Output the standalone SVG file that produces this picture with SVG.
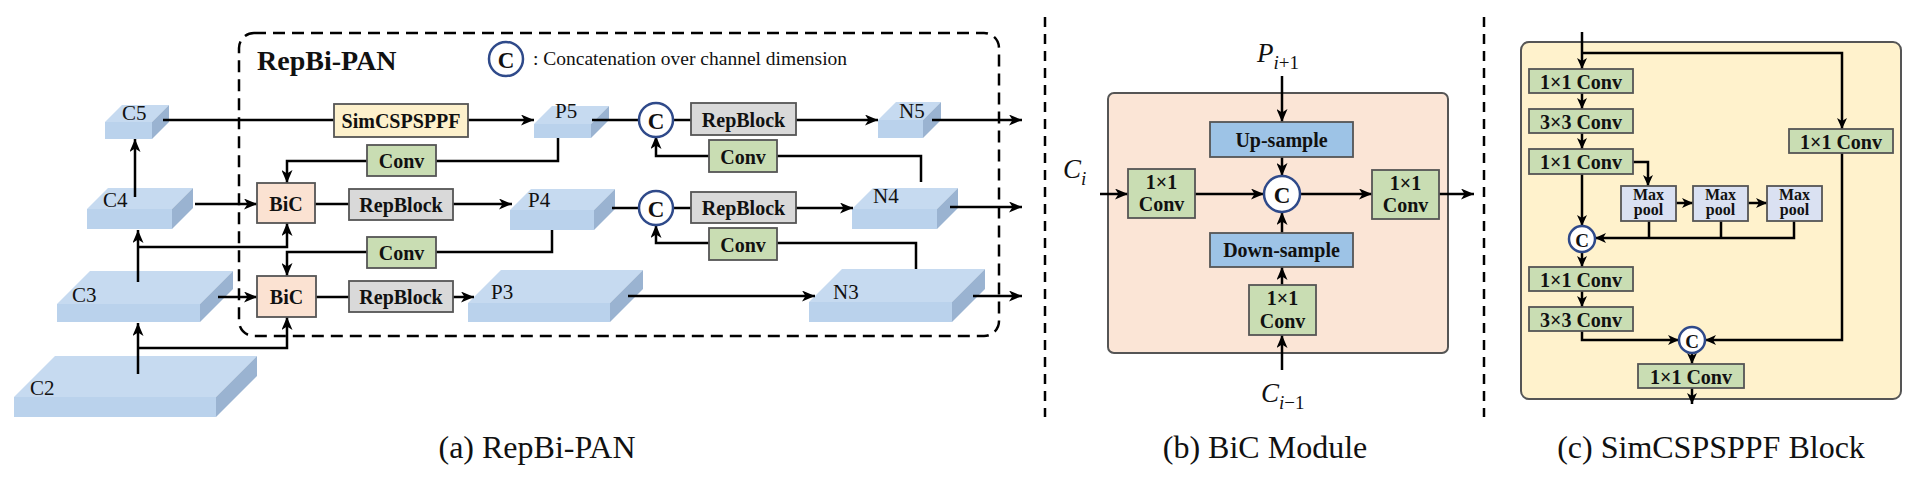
<svg xmlns="http://www.w3.org/2000/svg" width="1920" height="480" viewBox="0 0 1920 480">
<defs>
<marker id="ah" markerUnits="userSpaceOnUse" markerWidth="13" markerHeight="11" refX="13" refY="5.5" orient="auto" viewBox="0 0 13 11"><path d="M0,0 L13,5.5 L0,11 L3.5,5.5 z" fill="#000"/></marker>
<marker id="as" markerUnits="userSpaceOnUse" markerWidth="11" markerHeight="10" refX="11" refY="5" orient="auto" viewBox="0 0 11 10"><path d="M0,0 L11,5 L0,10 L3,5 z" fill="#000"/></marker>
<style>
.ln{stroke:#000;stroke-width:2.5;fill:none}
.a{marker-end:url(#ah)}
.s{marker-end:url(#as)}
.dash{stroke:#000;stroke-width:2.5;fill:none;stroke-dasharray:12 7}
.bx{stroke:#555;stroke-width:1.8}
.conv{fill:#c9ddb3}
.rep{fill:#d9d9d9}
.bic{fill:#fbe2d2}
.sim{fill:#fdf1cc}
.smp{fill:#9dc3e6}
.mp{fill:#dae1f2}
.cc{fill:#fff;stroke:#2f4a8a;stroke-width:2.5}
.top{fill:#c6daf0}
.fr{fill:#bad2ec}
.sd{fill:#9ab3d1}
.bt{font-family:"Liberation Serif",serif;font-weight:bold;font-size:20px;text-anchor:middle;dominant-baseline:central;fill:#111}
.ct{font-family:"Liberation Serif",serif;font-weight:bold;font-size:23px;text-anchor:middle;dominant-baseline:central;fill:#111}
.cs{font-family:"Liberation Serif",serif;font-weight:bold;font-size:19px;text-anchor:middle;dominant-baseline:central;fill:#111}
.mt{font-family:"Liberation Serif",serif;font-weight:bold;font-size:16px;text-anchor:middle;fill:#111}
.lb{font-family:"Liberation Serif",serif;font-size:21px;fill:#111}
.cap{font-family:"Liberation Serif",serif;font-size:32px;text-anchor:middle;fill:#111}
.m{font-family:"Liberation Serif",serif;font-style:italic;font-size:27px;fill:#111}
</style>
</defs>
<rect width="1920" height="480" fill="#fff"/>

<!-- panel frames -->
<g id="frames">
<rect x="239" y="33" width="760" height="303" rx="15" class="dash"/>
<line x1="1045" y1="17" x2="1045" y2="417" class="dash" style="stroke-dasharray:10 7"/>
<line x1="1484" y1="17" x2="1484" y2="417" class="dash" style="stroke-dasharray:10 7"/>
<rect x="1108" y="93" width="340" height="260" rx="6" fill="#fbe5d6" stroke="#555" stroke-width="2"/>
<rect x="1521" y="42" width="380" height="357" rx="8" fill="#fff2cc" stroke="#555" stroke-width="2"/>
</g>

<!-- slabs -->
<g id="C5"><polygon class="top" points="105,122 122,105 169,105 152,122"/><rect class="fr" x="105" y="122" width="47" height="17"/><polygon class="sd" points="152,122 169,105 169,122 152,139"/><text class="lb" x="122" y="120">C5</text></g>
<g id="C4"><polygon class="top" points="87,209 108,188 193,188 172,209"/><rect class="fr" x="87" y="209" width="85" height="20"/><polygon class="sd" points="172,209 193,188 193,208 172,229"/><text class="lb" x="103" y="207">C4</text></g>
<g id="C3"><polygon class="top" points="57,304 90,271 233,271 200,304"/><rect class="fr" x="57" y="304" width="143" height="18"/><polygon class="sd" points="200,304 233,271 233,289 200,322"/><text class="lb" x="72" y="302">C3</text></g>
<g id="C2"><polygon class="top" points="14,397 55,356 257,356 216,397"/><rect class="fr" x="14" y="397" width="202" height="20"/><polygon class="sd" points="216,397 257,356 257,376 216,417"/><text class="lb" x="30" y="395">C2</text></g>
<g id="P5"><polygon class="top" points="534,124 552,106 609,106 591,124"/><rect class="fr" x="534" y="124" width="57" height="14"/><polygon class="sd" points="591,124 609,106 609,120 591,138"/><text class="lb" x="555" y="118">P5</text></g>
<g id="P4"><polygon class="top" points="510,210 531,189 615,189 594,210"/><rect class="fr" x="510" y="210" width="84" height="20"/><polygon class="sd" points="594,210 615,189 615,209 594,230"/><text class="lb" x="528" y="207">P4</text></g>
<g id="P3"><polygon class="top" points="468,303 501,270 643,270 610,303"/><rect class="fr" x="468" y="303" width="142" height="19"/><polygon class="sd" points="610,303 643,270 643,289 610,322"/><text class="lb" x="491" y="299">P3</text></g>
<g id="N5"><polygon class="top" points="878,120 896,102 941,102 923,120"/><rect class="fr" x="878" y="120" width="45" height="18"/><polygon class="sd" points="923,120 941,102 941,120 923,138"/><text class="lb" x="899" y="118">N5</text></g>
<g id="N4"><polygon class="top" points="852,209 873,188 958,188 937,209"/><rect class="fr" x="852" y="209" width="85" height="20"/><polygon class="sd" points="937,209 958,188 958,208 937,229"/><text class="lb" x="873" y="203">N4</text></g>
<g id="N3"><polygon class="top" points="809,302 842,269 985,269 952,302"/><rect class="fr" x="809" y="302" width="143" height="20"/><polygon class="sd" points="952,302 985,269 985,289 952,322"/><text class="lb" x="833" y="299">N3</text></g>

<!-- connectors -->
<g id="connectors">
<path class="ln" d="M163,120 H334"/>
<path class="ln a" d="M468,120 H534"/>
<path class="ln" d="M558,138 V161 H436"/>
<path class="ln a" d="M367,161 H287 V183"/>
<path class="ln" d="M592,120 H639"/>
<path class="ln" d="M673,120 H691"/>
<path class="ln a" d="M796,120 H878"/>
<path class="ln a" d="M932,120 H1022"/>
<path class="ln" d="M921,182 V156 H777"/>
<path class="ln a" d="M709,156 H656 V136"/>
<path class="ln a" d="M195,204 H257"/>
<path class="ln a" d="M135,197 V139"/>
<path class="ln" d="M315,204 H349"/>
<path class="ln a" d="M453,204 H512"/>
<path class="ln" d="M612,208 H639"/>
<path class="ln" d="M673,208 H691"/>
<path class="ln a" d="M796,208 H853"/>
<path class="ln a" d="M950,207 H1022"/>
<path class="ln" d="M552,230 V252 H436"/>
<path class="ln a" d="M367,252 H287 V276"/>
<path class="ln" d="M916,269 V243 H777"/>
<path class="ln a" d="M709,243 H656 V225"/>
<path class="ln a" d="M218,297 H257"/>
<path class="ln a" d="M138,282 V230"/>
<path class="ln a" d="M138,247 H287 V223"/>
<path class="ln a" d="M138,374 V323"/>
<path class="ln a" d="M138,348 H287 V317"/>
<path class="ln" d="M316,297 H349"/>
<path class="ln a" d="M453,297 H474"/>
<path class="ln a" d="M628,296 H815"/>
<path class="ln a" d="M973,296 H1022"/>
<!-- BiC module -->
<path class="ln a" d="M1282,76 V122"/>
<path class="ln a" d="M1282,157 V176"/>
<path class="ln a" d="M1100,194 H1128"/>
<path class="ln a" d="M1195,194 H1264"/>
<path class="ln a" d="M1300,194 H1372"/>
<path class="ln a" d="M1439,194 H1474"/>
<path class="ln a" d="M1282,233 V212"/>
<path class="ln a" d="M1282,285 V267"/>
<path class="ln a" d="M1282,370 V335"/>
<!-- SimCSPSPPF block -->
<path class="ln s" d="M1582,32 V69"/>
<path class="ln s" d="M1582,93 V109"/>
<path class="ln s" d="M1582,133 V149"/>
<path class="ln s" d="M1582,174 V226"/>
<path class="ln s" d="M1582,252 V267"/>
<path class="ln s" d="M1582,291 V307"/>
<path class="ln s" d="M1582,331 V340 H1679"/>
<path class="ln s" d="M1582,53 H1842 V129"/>
<path class="ln s" d="M1842,153 V340 H1705"/>
<path class="ln s" d="M1633,162 H1648 V186"/>
<path class="ln s" d="M1676,203 H1693"/>
<path class="ln s" d="M1748,203 H1767"/>
<path class="ln" d="M1649,221 V238 M1721,221 V238"/>
<path class="ln s" d="M1794,221 V238 H1595"/>
<path class="ln s" d="M1692,353 V364"/>
<path class="ln s" d="M1692,388 V404"/>
</g>

<!-- panel (a) nodes -->
<g id="title"><text x="257" y="70" font-family="Liberation Serif, serif" font-weight="bold" font-size="28" fill="#111">RepBi-PAN</text></g>
<g id="legend"><circle class="cc" cx="506" cy="59" r="17"/><text class="ct" x="506" y="60">C</text><text x="533" y="65" font-family="Liberation Serif, serif" font-size="19.5" fill="#111">: Concatenation over channel dimension</text></g>
<g id="simcspsppf"><rect class="bx sim" x="334" y="104" width="134" height="33"/><text class="bt" x="401" y="121">SimCSPSPPF</text></g>
<g id="conv1"><rect class="bx conv" x="367" y="145" width="69" height="31"/><text class="bt" x="401.5" y="161">Conv</text></g>
<g id="bic1"><rect class="bx bic" x="257" y="183" width="58" height="40"/><text class="bt" x="286" y="204">BiC</text></g>
<g id="rep1"><rect class="bx rep" x="349" y="189" width="104" height="31"/><text class="bt" x="401" y="205">RepBlock</text></g>
<g id="conv2"><rect class="bx conv" x="367" y="237" width="69" height="31"/><text class="bt" x="401.5" y="253">Conv</text></g>
<g id="bic2"><rect class="bx bic" x="257" y="276" width="59" height="41"/><text class="bt" x="286.5" y="297">BiC</text></g>
<g id="rep2"><rect class="bx rep" x="349" y="281" width="104" height="31"/><text class="bt" x="401" y="297">RepBlock</text></g>
<g id="cat1"><circle class="cc" cx="656" cy="120" r="17"/><text class="ct" x="656" y="121">C</text></g>
<g id="rep3"><rect class="bx rep" x="691" y="103" width="105" height="32"/><text class="bt" x="743.5" y="120">RepBlock</text></g>
<g id="conv3"><rect class="bx conv" x="709" y="140" width="68" height="32"/><text class="bt" x="743" y="157">Conv</text></g>
<g id="cat2"><circle class="cc" cx="656" cy="208" r="17"/><text class="ct" x="656" y="209">C</text></g>
<g id="rep4"><rect class="bx rep" x="691" y="192" width="105" height="31"/><text class="bt" x="743.5" y="208">RepBlock</text></g>
<g id="conv4"><rect class="bx conv" x="709" y="228" width="68" height="32"/><text class="bt" x="743" y="245">Conv</text></g>

<!-- panel (b) nodes -->
<g id="pin"><text class="m" x="1257" y="62">P<tspan font-size="19" dy="7">i</tspan><tspan font-size="19" font-style="normal">+1</tspan></text></g>
<g id="cin"><text class="m" x="1063" y="178">C<tspan font-size="19" dy="7">i</tspan></text></g>
<g id="cin2"><text class="m" x="1261" y="402">C<tspan font-size="19" dy="7">i</tspan><tspan font-size="19" font-style="normal">−1</tspan></text></g>
<g id="upsample"><rect class="bx smp" x="1210" y="122" width="143" height="35"/><text class="bt" x="1281.5" y="140">Up-sample</text></g>
<g id="downsample"><rect class="bx smp" x="1210" y="233" width="143" height="34"/><text class="bt" x="1281.5" y="250">Down-sample</text></g>
<g id="bcat"><circle class="cc" cx="1282" cy="194" r="18"/><text class="ct" x="1282" y="195">C</text></g>
<g id="bconvL"><rect class="bx conv" x="1128" y="169" width="67" height="49"/><text class="bt" x="1161.5" y="182">1×1<tspan x="1161.5" dy="22">Conv</tspan></text></g>
<g id="bconvR"><rect class="bx conv" x="1372" y="170" width="67" height="49"/><text class="bt" x="1405.5" y="183">1×1<tspan x="1405.5" dy="22">Conv</tspan></text></g>
<g id="bconvB"><rect class="bx conv" x="1249" y="285" width="67" height="50"/><text class="bt" x="1282.5" y="298">1×1<tspan x="1282.5" dy="23">Conv</tspan></text></g>

<!-- panel (c) nodes -->
<g id="c1"><rect class="bx conv" x="1529" y="69" width="104" height="24"/><text class="bt" x="1581" y="81.5">1×1 Conv</text></g>
<g id="c2"><rect class="bx conv" x="1529" y="109" width="104" height="24"/><text class="bt" x="1581" y="121.5">3×3 Conv</text></g>
<g id="c3"><rect class="bx conv" x="1529" y="149" width="104" height="25"/><text class="bt" x="1581" y="162">1×1 Conv</text></g>
<g id="c4"><rect class="bx conv" x="1529" y="267" width="104" height="24"/><text class="bt" x="1581" y="279.5">1×1 Conv</text></g>
<g id="c5"><rect class="bx conv" x="1529" y="307" width="104" height="24"/><text class="bt" x="1581" y="319.5">3×3 Conv</text></g>
<g id="c6"><rect class="bx conv" x="1789" y="129" width="104" height="24"/><text class="bt" x="1841" y="141.5">1×1 Conv</text></g>
<g id="c7"><rect class="bx conv" x="1638" y="364" width="106" height="24"/><text class="bt" x="1691" y="376.5">1×1 Conv</text></g>
<g id="mp1"><rect class="bx mp" x="1621" y="186" width="55" height="35"/><text class="mt" x="1648.5" y="200">Max<tspan x="1648.5" dy="15">pool</tspan></text></g>
<g id="mp2"><rect class="bx mp" x="1693" y="186" width="55" height="35"/><text class="mt" x="1720.5" y="200">Max<tspan x="1720.5" dy="15">pool</tspan></text></g>
<g id="mp3"><rect class="bx mp" x="1767" y="186" width="55" height="35"/><text class="mt" x="1794.5" y="200">Max<tspan x="1794.5" dy="15">pool</tspan></text></g>
<g id="ccat1"><circle class="cc" cx="1582" cy="239" r="13"/><text class="cs" x="1582" y="240">C</text></g>
<g id="ccat2"><circle class="cc" cx="1692" cy="340" r="13"/><text class="cs" x="1692" y="341">C</text></g>

<!-- captions -->
<g id="captions">
<text class="cap" x="537" y="458">(a) RepBi-PAN</text>
<text class="cap" x="1265" y="458">(b) BiC Module</text>
<text class="cap" x="1711" y="458">(c) SimCSPSPPF Block</text>
</g>
</svg>
